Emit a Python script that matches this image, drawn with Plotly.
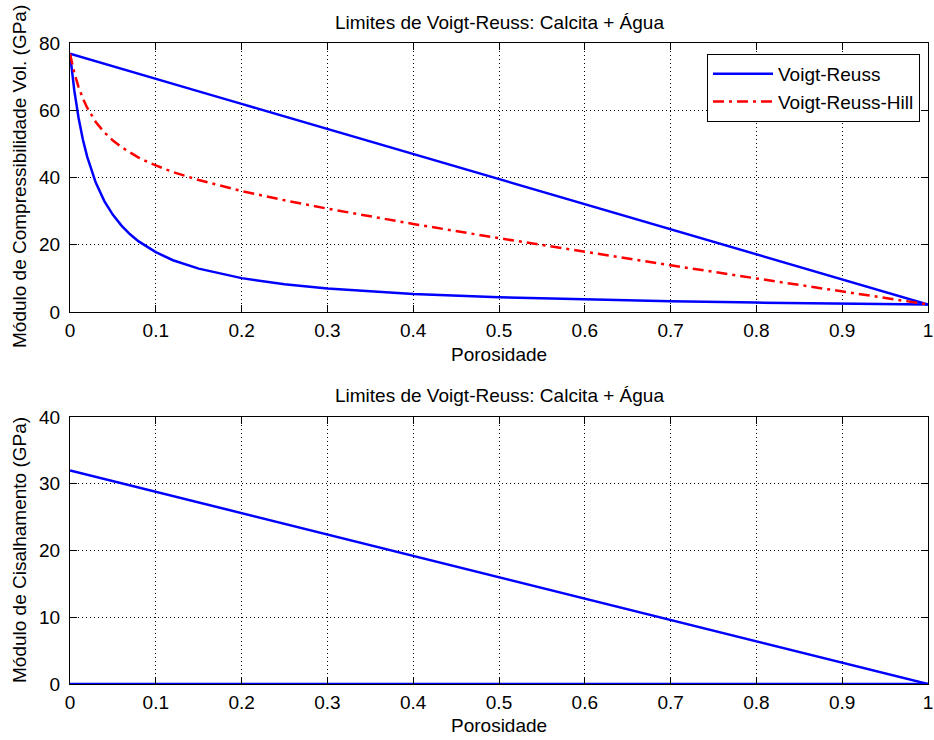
import plotly.graph_objects as go

# Porosity sample points
porosity = [0, 0.0025, 0.005, 0.01, 0.015, 0.02, 0.025, 0.03, 0.04, 0.05, 0.06,
            0.07, 0.08, 0.09, 0.1, 0.12, 0.15, 0.2, 0.25, 0.3, 0.35, 0.4,
            0.5, 0.6, 0.7, 0.8, 0.9, 1.0]

# Bulk modulus (GPa): Voigt upper bound, Reuss lower bound, Hill average
k_voigt = [76.8, 76.61, 76.43, 76.05, 75.68, 75.31, 74.94, 74.56, 73.82, 73.07, 72.33,
           71.58, 70.84, 70.09, 69.35, 67.85, 65.62, 61.89, 58.16, 54.44, 50.71, 46.98,
           39.53, 32.07, 24.62, 17.16, 9.71, 2.25]
k_reuss = [76.8, 70.9, 65.9, 57.7, 51.3, 46.2, 42.0, 38.5, 33.0, 28.9, 25.7,
           23.1, 21.0, 19.3, 17.8, 15.4, 12.9, 10.07, 8.27, 7.02, 6.10, 5.39,
           4.37, 3.68, 3.17, 2.79, 2.49, 2.25]
k_hill = [76.8, 73.76, 71.17, 66.88, 63.49, 60.76, 58.47, 56.53, 53.41, 50.99, 49.02,
          47.34, 45.92, 44.70, 43.58, 41.63, 39.26, 35.98, 33.22, 30.73, 28.41, 26.19,
          21.95, 17.88, 13.90, 9.98, 6.10, 2.25]

# Shear modulus (GPa)
porosity_mu = [0, 0.1, 0.2, 0.3, 0.4, 0.5, 0.6, 0.7, 0.8, 0.9, 1.0]
mu_voigt = [32, 28.8, 25.6, 22.4, 19.2, 16.0, 12.8, 9.6, 6.4, 3.2, 0]
mu_reuss = [0, 0, 0, 0, 0, 0, 0, 0, 0, 0, 0]

# Tick positions and labels
x_ticks = [0, 0.1, 0.2, 0.3, 0.4, 0.5, 0.6, 0.7, 0.8, 0.9, 1]
x_tick_labels = ["0", "0.1", "0.2", "0.3", "0.4", "0.5", "0.6", "0.7", "0.8", "0.9", "1"]
y_ticks_top = [0, 20, 40, 60, 80]
y_ticks_bottom = [0, 10, 20, 30, 40]

title_text = "Limites de Voigt-Reuss: Calcita + Água"
x_label = "Porosidade"
y_label_top = "Módulo de Compressibilidade Vol. (GPa)"
y_label_bottom = "Módulo de Cisalhamento (GPa)"
legend_names = ["Voigt-Reuss", "Voigt-Reuss-Hill"]

W, H = 934, 740
ML, MR, MT, MB = 70, 6, 43, 56
PW, PH = W - ML - MR, H - MT - MB
FONT = "Liberation Sans, Arial, sans-serif"
FS = 19
BLUE = "#0000FF"
RED = "#FF0000"
LW = 2.5


def px_x(px):
    return (px - ML) / PW


def px_y(py):
    return (H - MB - py) / PH


top_dom = [px_y(312), 1.0]
bot_dom = [0.0, px_y(417)]

fig = go.Figure()

fig.add_trace(go.Scatter(x=porosity, y=k_voigt, mode="lines", name=legend_names[0],
                         line=dict(color=BLUE, width=LW), xaxis="x", yaxis="y",
                         legendrank=1))
fig.add_trace(go.Scatter(x=porosity, y=k_reuss, mode="lines", name=legend_names[0],
                         line=dict(color=BLUE, width=LW), xaxis="x", yaxis="y",
                         showlegend=False))
fig.add_trace(go.Scatter(x=porosity, y=k_hill, mode="lines", name=legend_names[1],
                         line=dict(color=RED, width=LW, dash="11px,5px,3px,5px"),
                         xaxis="x", yaxis="y", legendrank=2))
fig.add_trace(go.Scatter(x=porosity_mu, y=mu_voigt, mode="lines", showlegend=False,
                         line=dict(color=BLUE, width=LW), xaxis="x2", yaxis="y2"))
fig.add_trace(go.Scatter(x=porosity_mu, y=mu_reuss, mode="lines", showlegend=False,
                         line=dict(color=BLUE, width=LW), xaxis="x2", yaxis="y2"))

axis_common = dict(
    showgrid=True, gridcolor="#000000", gridwidth=1, griddash="1px,3px",
    ticks="inside", ticklen=7, tickwidth=1, tickcolor="#000000",
    showline=True, linecolor="#000000", linewidth=1, mirror="ticks",
    zeroline=False, tickfont=dict(family=FONT, size=FS, color="#000000"),
    ticklabeloverflow="allow", automargin=False,
)
x_ax = dict(range=[0, 1], tickmode="array", tickvals=x_ticks, ticktext=x_tick_labels,
            ticklabelstandoff=1, **axis_common)

fig.update_layout(
    width=W, height=H,
    margin=dict(l=ML, r=MR, t=MT, b=MB, autoexpand=False),
    paper_bgcolor="white", plot_bgcolor="white",
    font=dict(family=FONT, size=FS, color="#000000"),
    xaxis=dict(domain=[0, 1], anchor="y", **x_ax),
    yaxis=dict(domain=top_dom, anchor="x", range=[0, 80], tickmode="array",
               tickvals=y_ticks_top, ticklabelstandoff=5, **axis_common),
    xaxis2=dict(domain=[0, 1], anchor="y2", **x_ax),
    yaxis2=dict(domain=bot_dom, anchor="x2", range=[0, 40], tickmode="array",
                tickvals=y_ticks_bottom, ticklabelstandoff=5, **axis_common),
    legend=dict(x=px_x(920), y=px_y(54), xanchor="right", yanchor="top",
                bgcolor="white", bordercolor="#000000", borderwidth=1,
                font=dict(family=FONT, size=FS, color="#000000"),
                itemwidth=60, tracegroupgap=0),
    showlegend=True,
)

annots = [
    (title_text, px_x(499), px_y(22), 0),
    (x_label, px_x(499), px_y(354), 0),
    (title_text, px_x(499), px_y(395), 0),
    (x_label, px_x(499), px_y(725), 0),
    (y_label_top, px_x(19), px_y(177), -90),
    (y_label_bottom, px_x(19), px_y(550), -90),
]
for text, ax_, ay_, ang in annots:
    fig.add_annotation(text=text, x=ax_, y=ay_, xref="paper", yref="paper",
                       xanchor="center", yanchor="middle", showarrow=False,
                       textangle=ang, font=dict(family=FONT, size=FS, color="#000000"))

fig.write_html("out.html")
